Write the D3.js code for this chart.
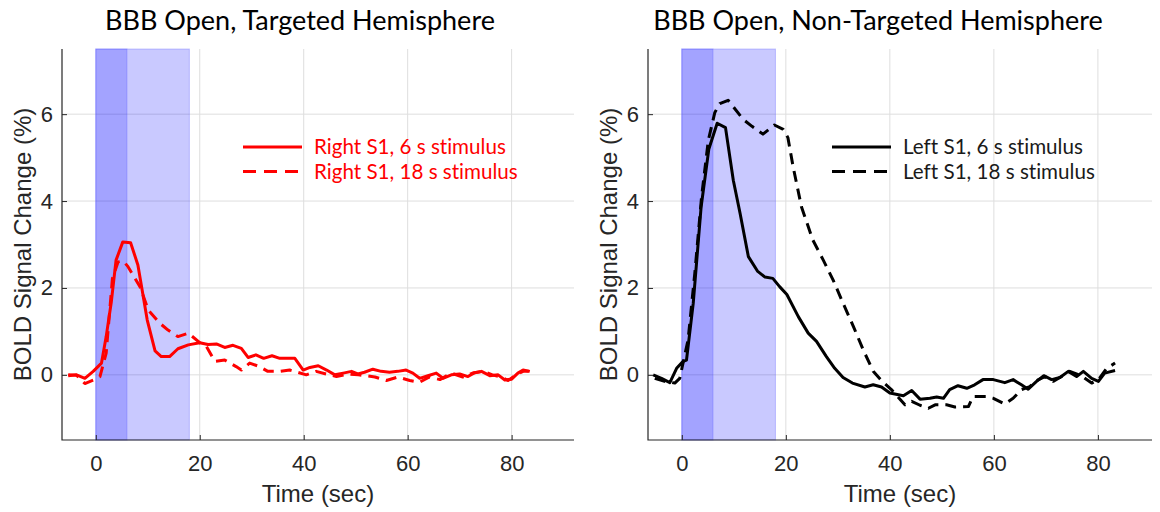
<!DOCTYPE html>
<html>
<head>
<meta charset="utf-8">
<script src="https://cdn.jsdelivr.net/npm/d3@7"></script>
<style>
  body { margin: 0; background: #fff; }
  svg { display: block; }
  text { font-variant-ligatures: none; }
</style>
</head>
<body>
<div id="the_chart"></div>
<script>
// time (sec), BOLD % change
var rightS1_6s = [[-5.3,-0.02],[-3.7,0.0],[-2.1,-0.08],[-0.5,0.08],[1.1,0.27],[2.0,0.88],[3.0,1.69],[3.9,2.64],[5.2,3.06],[6.7,3.04],[8.1,2.53],[9.9,1.26],[11.4,0.55],[12.6,0.42],[14.2,0.42],[15.8,0.6],[17.8,0.69],[20.0,0.74],[21.6,0.7],[23.2,0.71],[24.8,0.63],[26.4,0.68],[28.0,0.61],[29.3,0.4],[30.8,0.46],[32.3,0.38],[33.9,0.44],[35.4,0.38],[38.3,0.38],[39.9,0.11],[41.2,0.17],[42.8,0.21],[44.4,0.11],[46.0,0.0],[47.6,0.04],[49.2,0.08],[50.4,0.02],[51.7,0.06],[53.3,0.13],[54.9,0.08],[56.5,0.06],[58.1,0.08],[59.7,0.11],[61.0,0.04],[62.3,-0.08],[63.9,-0.02],[65.5,0.04],[66.8,-0.08],[68.4,0.0],[70.0,0.02],[71.6,-0.04],[72.9,0.05],[74.2,0.08],[75.8,-0.02],[77.4,0.0],[78.7,-0.12],[80.0,-0.1],[81.2,0.04],[82.2,0.11],[83.5,0.08]];

var rightS1_18s = [[-5.3,0.0],[-3.7,-0.01],[-2.1,-0.2],[-0.5,-0.12],[0.8,-0.04],[2.0,0.5],[3.2,2.22],[4.3,2.6],[5.3,2.62],[6.2,2.49],[8.5,2.03],[10.1,1.49],[12.3,1.19],[13.9,1.03],[15.8,0.88],[17.8,0.96],[20.0,0.74],[21.3,0.65],[22.9,0.31],[24.8,0.34],[27.0,0.19],[28.0,0.11],[29.6,0.27],[31.5,0.19],[33.1,0.08],[35.4,0.08],[37.3,0.11],[38.8,0.06],[40.5,0.0],[42.4,0.08],[44.3,0.02],[46.3,-0.04],[48.5,0.02],[50.5,0.0],[52.0,-0.02],[53.7,-0.05],[55.9,-0.13],[58.1,-0.05],[60.4,-0.13],[62.3,-0.17],[64.2,-0.05],[66.2,-0.11],[68.4,0.04],[70.6,-0.05],[72.5,0.04],[74.5,0.08],[76.3,0.0],[78.0,-0.05],[79.3,-0.13],[80.9,0.0],[82.2,0.08],[83.3,0.08]];

var leftS1_6s = [[-5.5,0.0],[-3.9,-0.08],[-2.3,-0.18],[-1.0,0.15],[0.25,0.31],[0.9,0.34],[2.2,1.65],[3.7,3.85],[5.2,5.2],[6.8,5.79],[8.4,5.69],[9.9,4.48],[11.2,3.72],[12.8,2.72],[14.6,2.38],[16.0,2.25],[17.5,2.22],[18.8,2.03],[20.2,1.85],[22.4,1.34],[24.3,0.96],[25.9,0.77],[27.8,0.42],[29.4,0.15],[31.0,-0.06],[32.8,-0.19],[35.2,-0.28],[36.8,-0.23],[38.4,-0.28],[40.0,-0.42],[42.6,-0.48],[44.2,-0.36],[45.8,-0.56],[47.7,-0.54],[49.0,-0.51],[50.3,-0.54],[51.5,-0.34],[53.1,-0.25],[54.8,-0.31],[56.3,-0.23],[57.9,-0.11],[59.9,-0.11],[62.1,-0.18],[63.7,-0.11],[65.3,-0.23],[66.6,-0.33],[68.2,-0.15],[69.6,-0.02],[71.1,-0.11],[72.7,-0.06],[74.3,0.08],[75.9,-0.04],[77.2,0.08],[78.8,-0.08],[80.1,-0.15],[81.3,0.04],[83.3,0.1]];

var leftS1_18s = [[-5.2,-0.08],[-3.3,-0.15],[-1.35,-0.19],[-0.4,-0.08],[1.2,0.8],[2.5,2.34],[3.8,4.1],[5.1,5.4],[6.35,6.04],[7.3,6.24],[8.9,6.32],[9.9,6.17],[11.8,5.88],[13.5,5.72],[15.6,5.54],[17.8,5.75],[19.5,5.65],[20.4,5.46],[21.4,4.79],[23.0,3.87],[25.2,3.1],[27.2,2.64],[29.1,2.18],[31.0,1.65],[33.0,1.11],[34.9,0.57],[36.8,0.08],[38.5,-0.15],[40.3,-0.34],[42.9,-0.69],[44.2,-0.61],[45.8,-0.7],[47.4,-0.77],[48.7,-0.69],[50.9,-0.69],[52.5,-0.74],[55.1,-0.73],[56.0,-0.5],[58.6,-0.5],[59.9,-0.54],[62.1,-0.67],[63.7,-0.54],[65.3,-0.34],[66.9,-0.27],[68.4,-0.12],[69.8,-0.04],[71.4,-0.15],[73.0,-0.04],[74.6,0.08],[76.8,-0.02],[78.8,-0.19],[80.1,-0.11],[81.7,0.15],[83.3,0.27]];

var xTicks = [0, 20, 40, 60, 80];
var yTicks = [0, 2, 4, 6];
var stimBands = [[0, 18], [0, 6]];   // 18 s block, 6 s block (overlaid)

var titles = ["BBB Open, Targeted Hemisphere", "BBB Open, Non-Targeted Hemisphere"];
var legendLeft = ["Right S1, 6 s stimulus", "Right S1, 18 s stimulus"];
var legendRight = ["Left S1, 6 s stimulus", "Left S1, 18 s stimulus"];

var canvas = d3.select("#the_chart")
              .append("svg")
              .attr("width", 1160)
              .attr("height", 512);

gen_panel({ x0: 62, x1: 574, xmax: 92, titleX: 300,
            color: "#ff0000", series: [rightS1_6s, rightS1_18s], legend: legendLeft,
            title: titles[0], legX: 243 });
gen_panel({ x0: 648, x1: 1152, xmax: 90.4, titleX: 878,
            color: "#000000", series: [leftS1_6s, leftS1_18s], legend: legendRight,
            title: titles[1], legX: 832 });

function gen_panel(p) {
  var top = 49, bottom = 440;
  var axisCol = "#262626";

  var xscale = d3.scaleLinear()
          .domain([-6.5, p.xmax])
          .range([p.x0, p.x1]);

  var yscale = d3.scaleLinear()
          .domain([-1.5, 7.5])
          .range([bottom, top]);

  var g = canvas.append("g");

  // grid
  g.append("g").selectAll("line.gx")
    .data(xTicks.slice(1))
    .enter().append("line")
    .attr("x1", function(d){ return xscale(d); })
    .attr("x2", function(d){ return xscale(d); })
    .attr("y1", top).attr("y2", bottom)
    .style("stroke", "#dedede").style("stroke-width", "1px");

  g.append("g").selectAll("line.gy")
    .data(yTicks)
    .enter().append("line")
    .attr("x1", p.x0).attr("x2", p.x1)
    .attr("y1", function(d){ return yscale(d); })
    .attr("y2", function(d){ return yscale(d); })
    .style("stroke", "#dedede").style("stroke-width", "1px");

  // stimulus blocks
  g.append("g").selectAll("rect")
    .data(stimBands)
    .enter().append("rect")
    .attr("x", function(d){ return xscale(d[0]); })
    .attr("width", function(d){ return xscale(d[1]) - xscale(d[0]); })
    .attr("y", top)
    .attr("height", bottom - top)
    .style("fill", "#0000ff")
    .style("fill-opacity", function(d,i){ return i == 0 ? 0.21 : 0.19; })
    .style("stroke", "#6060ff")
    .style("stroke-opacity", 0.35)
    .style("stroke-width", "1px");

  // axes, ticks pointing inward
  var yAxis = d3.axisLeft(yscale)
      .tickValues(yTicks)
      .tickSize(-5)
      .tickPadding(9);
  var xAxis = d3.axisBottom(xscale)
      .tickValues(xTicks)
      .tickSize(-5)
      .tickPadding(15);

  var ya = g.append("g")
      .attr("transform", "translate(" + p.x0 + ",0)")
      .call(yAxis);
  var xa = g.append("g")
      .attr("transform", "translate(0," + bottom + ")")
      .call(xAxis);

  [ya, xa].forEach(function(a){
    a.select(".domain").attr("d", null);
    a.selectAll(".tick line").style("stroke", axisCol).style("stroke-width", "1px");
    a.selectAll("text")
      .style("font-family", "'Liberation Sans', Arial, sans-serif")
      .style("font-size", "22px")
      .style("fill", axisCol);
  });

  // axis lines (left + bottom only)
  g.append("path")
    .attr("d", "M" + p.x0 + "," + top + "V" + bottom + "H" + p.x1)
    .style("fill", "none")
    .style("stroke", axisCol)
    .style("stroke-width", "1.2px");

  // curves
  var line = d3.line()
      .x(function(d){ return xscale(d[0]); })
      .y(function(d){ return yscale(d[1]); });

  g.append("g").selectAll("path")
    .data(p.series)
    .enter().append("path")
    .attr("d", line)
    .style("fill", "none")
    .style("stroke", p.color)
    .style("stroke-width", "3px")
    .style("stroke-linejoin", "round")
    .style("stroke-dasharray", function(d,i){ return i == 1 ? "11,7" : null; });

  // legend
  var leg = g.append("g").selectAll("g")
      .data(p.legend)
      .enter().append("g")
      .attr("transform", function(d,i){ return "translate(" + p.legX + "," + (147 + i*24.5) + ")"; });

  leg.append("line")
    .attr("x1", 0).attr("x2", 59)
    .attr("y1", 0).attr("y2", 0)
    .style("stroke", p.color)
    .style("stroke-width", "3px")
    .style("stroke-dasharray", function(d,i){ return i == 1 ? "13,8" : null; });

  leg.append("text")
    .attr("x", 71)
    .attr("y", 7)
    .text(function(d){ return d; })
    .style("font-family", "Lato, 'Open Sans', sans-serif")
    .style("font-size", "20.6px")
    .style("fill", p.color == "#000000" ? "#1a1a1a" : p.color);

  // labels
  g.append("text")
    .attr("x", (p.x0 + p.x1) / 2)
    .attr("y", 502)
    .attr("text-anchor", "middle")
    .text("Time (sec)")
    .style("font-family", "'Liberation Sans', Arial, sans-serif")
    .style("font-size", "24px")
    .style("fill", axisCol);

  g.append("text")
    .attr("transform", "translate(" + (p.x0 - 31) + "," + ((top + bottom) / 2) + ") rotate(-90)")
    .attr("text-anchor", "middle")
    .text("BOLD Signal Change (%)")
    .style("font-family", "'Liberation Sans', Arial, sans-serif")
    .style("font-size", "24px")
    .style("fill", axisCol);

  g.append("text")
    .attr("x", p.titleX)
    .attr("y", 30)
    .attr("text-anchor", "middle")
    .text(p.title)
    .style("font-family", "Lato, 'Open Sans', sans-serif")
    .style("font-size", "27px")
    .style("fill", "#000");
}
</script>
</body>
</html>
